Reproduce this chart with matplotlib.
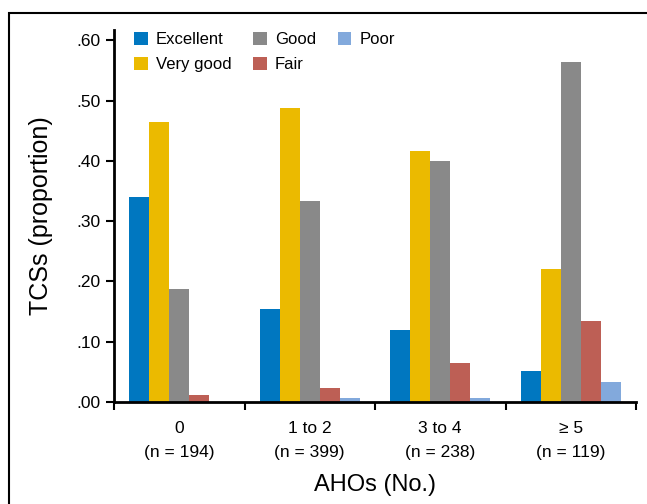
import matplotlib
matplotlib.use("Agg")
import matplotlib.pyplot as plt
from matplotlib.patches import Rectangle
import numpy as np

categories = ["0\n(n = 194)", "1 to 2\n(n = 399)", "3 to 4\n(n = 238)", "\u2265 5\n(n = 119)"]
series_names = ["Excellent", "Very good", "Good", "Fair", "Poor"]
excellent = [0.340, 0.154, 0.119, 0.051]
very_good = [0.464, 0.488, 0.416, 0.220]
good = [0.187, 0.334, 0.400, 0.564]
fair = [0.011, 0.023, 0.064, 0.135]
poor = [0.000, 0.006, 0.006, 0.034]
yticks = [0.0, 0.1, 0.2, 0.3, 0.4, 0.5, 0.6]
ytick_labels = [".00", ".10", ".20", ".30", ".40", ".50", ".60"]
colors = ["#0077c0", "#ebba00", "#898989", "#bd5f55", "#82a9dc"]

plt.rcParams['font.family'] = ['Liberation Sans', 'DejaVu Sans']

fig = plt.figure(figsize=(6.47, 5.04), dpi=100)
ax = fig.add_axes([114/647, 1-402/504, (636-114)/647, (402-30)/504])

fig.patches.append(Rectangle((9/647, -0.1), 1.2, 1.1 - 13/504, transform=fig.transFigure,
                             fill=False, edgecolor="black", linewidth=1.5, zorder=10))

data = [excellent, very_good, good, fair, poor]
x = np.arange(len(categories))
w = 0.154
for i, (name, vals, c) in enumerate(zip(series_names, data, colors)):
    ax.bar(x + (i - 2) * w, vals, width=w, color=c, label=name, linewidth=0)

ax.set_xlim(-0.5, 3.5)
ax.set_ylim(0, 0.617)
ax.set_yticks(yticks)
ax.set_yticklabels(ytick_labels, fontsize=12.5)
ax.set_xticks(np.arange(-0.5, 3.6, 1.0))
ax.set_xticklabels([])
ax.set_xticks(x, minor=True)
ax.set_xticklabels(categories, minor=True, fontsize=12.5, linespacing=1.7)
ax.tick_params(axis='x', which='minor', length=0, pad=14)
ax.tick_params(axis='x', which='major', length=6, width=1.5, direction='out')
ax.tick_params(axis='y', length=6, width=1.5, direction='out')
for s in ["top", "right"]:
    ax.spines[s].set_visible(False)
for s in ["left", "bottom"]:
    ax.spines[s].set_linewidth(2)

ax.set_ylabel("TCSs (proportion)", fontsize=18, labelpad=17)
ax.set_xlabel("AHOs (No.)", fontsize=17, labelpad=10)

leg = ax.legend(ncol=3, loc="upper left", bbox_to_anchor=(0.01, 1.035), frameon=False,
                fontsize=12, handlelength=0.8, handleheight=0.8, handletextpad=0.5,
                columnspacing=1.3, labelspacing=0.6)

fig.savefig("out.png", dpi=100)
